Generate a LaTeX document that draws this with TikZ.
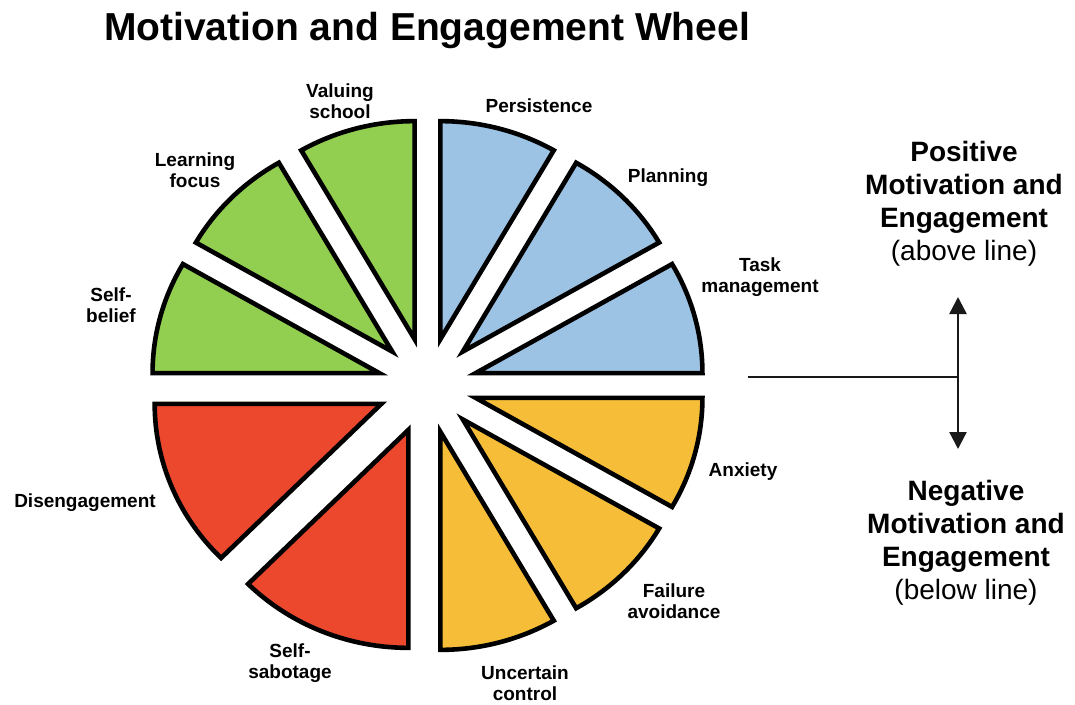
\documentclass[tikz,border=0pt]{standalone}
\usepackage{fontspec}
\setmainfont{Liberation Sans}
\usetikzlibrary{arrows.meta}
\definecolor{wgreen}{RGB}{146,206,80}
\definecolor{wblue}{RGB}{157,195,228}
\definecolor{worange}{RGB}{246,190,56}
\definecolor{wred}{RGB}{236,72,46}
\tikzset{axistip/.tip={Triangle[length=17pt,width=17pt]}}
\begin{document}
\begin{tikzpicture}[x=1pt,y=-1pt,
  sector/.style={draw=black, line width=4.6pt, line join=miter},
  lbl/.style={font=\fontsize{19}{21.5}\selectfont\bfseries, align=center, inner sep=0pt},
  side/.style={font=\fontsize{28}{33}\selectfont, align=center, inner sep=0pt, anchor=north},
  axisline/.style={line width=2.4pt, draw=black!90}]
\useasboundingbox (0,0) rectangle (1075,704);

% title
\node[font=\fontsize{39}{44}\selectfont\bfseries, anchor=base, inner sep=0pt] (title) at (427,40) {Motivation and Engagement Wheel};

% exploded wheel: each slice pushed out along its bisector
\begin{scope}[shift={(427.5,385.5)}, x=1.04pt, y=1pt]
\foreach \a/\b/\c in {0/30/wblue, 30/60/wblue, 60/90/wblue,
                      90/120/wgreen, 120/150/wgreen, 150/180/wgreen,
                      180/225/wred, 225/270/wred,
                      270/300/worange, 300/330/worange, 330/360/worange}{
  \pgfmathsetmacro\m{(\a+\b)/2}
  \begin{scope}[shift={(\m:48)}]
    \draw[sector, fill=\c] (0,0) -- plot[domain=\a:\b, samples=40] (\x:218) -- cycle;
  \end{scope}
}
\end{scope}

% slice labels
\node[lbl] (valuing)    at (340,101) {Valuing\\school};
\node[lbl] (learning)   at (195,170) {Learning\\focus};
\node[lbl] (selfbelief) at (111,305) {Self-\\belief};
\node[lbl] (persist)    at (539,106) {Persistence};
\node[lbl] (planning)   at (668,178) {Planning};
\node[lbl] (taskman)    at (760,277) {Task\\management};
\node[lbl] (anxiety)    at (743,472) {Anxiety};
\node[lbl] (failure)    at (674,601) {Failure\\avoidance};
\node[lbl] (uncertain)  at (525,683) {Uncertain\\control};
\node[lbl] (sabotage)   at (290,663) {Self-\\sabotage};
\node[lbl] (diseng)     at (85,503)  {Disengagement};

% dividing line and up/down arrow
\coordinate (lineStart) at (748,377);
\coordinate (axis) at (958,377);
\coordinate (upTip) at (958,297);
\coordinate (downTip) at (958,449);
\draw[axisline] (lineStart) -- (axis);
\draw[axisline, axistip-axistip] (upTip) -- (downTip);

% side captions
\node[side] (pos) at (964,141) {\textbf{Positive}\\\textbf{Motivation and}\\\textbf{Engagement}\\(above line)};
\node[side] (neg) at (966,480) {\textbf{Negative}\\\textbf{Motivation and}\\\textbf{Engagement}\\(below line)};
\end{tikzpicture}
\end{document}
